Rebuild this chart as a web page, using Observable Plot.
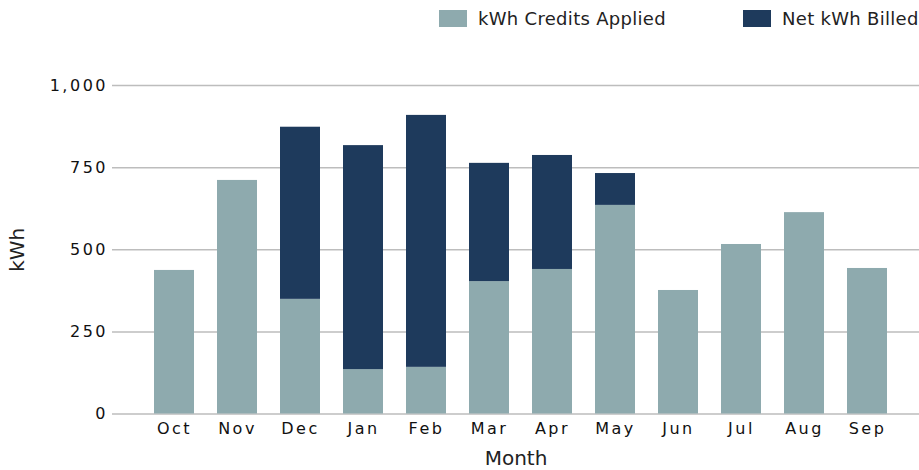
<!DOCTYPE html>
<html>
<head>
<meta charset="utf-8">
<script src="https://cdn.jsdelivr.net/npm/d3@7"></script>
<script src="https://cdn.jsdelivr.net/npm/@observablehq/plot@0.6"></script>
<style>
  html, body { margin: 0; padding: 0; background: #fff; }
  body { width: 919px; height: 470px; overflow: hidden; font-family: "DejaVu Sans", sans-serif; }
  #legend { position: relative; height: 38px; }
  .item { position: absolute; top: 8px; display: flex; align-items: center; font-size: 18px; color: #222; letter-spacing: 0.3px; }
  .sw { width: 28px; height: 17px; margin-right: 11px; }
  #chart svg { display: block; font-family: "DejaVu Sans", sans-serif; }
  #chart svg [aria-label$="tick label"] text { letter-spacing: 2.5px; }
</style>
</head>
<body>
<div id="legend"></div>
<div id="chart"></div>
<script>
const months = ["Oct","Nov","Dec","Jan","Feb","Mar","Apr","May","Jun","Jul","Aug","Sep"];
const creditsApplied = [437, 711, 349, 135, 142, 403, 440, 635, 376, 516, 613, 443];
const netBilled = [0, 0, 524, 682, 767, 360, 347, 97, 0, 0, 0, 0];
const seriesNames = ["kWh Credits Applied", "Net kWh Billed"];
const seriesColors = ["#8eaaae", "#1e3a5c"];
const yTicks = [0, 250, 500, 750, 1000];

const data = months.flatMap((m, i) => [
  {month: m, series: seriesNames[0], value: creditsApplied[i]},
  {month: m, series: seriesNames[1], value: netBilled[i]}
]);

// legend
const legendLefts = [439, 743];
const legend = document.getElementById("legend");
seriesNames.forEach((s, i) => {
  const it = document.createElement("div");
  it.className = "item";
  it.style.left = legendLefts[i] + "px";
  const sw = document.createElement("span");
  sw.className = "sw";
  sw.style.background = seriesColors[i];
  const tx = document.createElement("span");
  tx.textContent = s;
  it.append(sw, tx);
  legend.append(it);
});

const plot = Plot.plot({
  width: 919,
  height: 432,
  marginLeft: 112,
  marginRight: 0,
  marginTop: 47,
  marginBottom: 56.5,
  style: {fontSize: "16px", fontFamily: "DejaVu Sans, sans-serif", color: "#111", background: "#fff"},
  x: {domain: months, paddingInner: 0.365, paddingOuter: 0.587, align: 0.57},
  y: {domain: [0, 1000]},
  color: {domain: seriesNames, range: seriesColors},
  marks: [
    Plot.ruleY(yTicks, {stroke: "#bdbdbd", strokeWidth: 1.5}),
    Plot.barY(data, {x: "month", y: "value", fill: "series", order: seriesNames}),
    Plot.axisX({tickSize: 0, tickPadding: 9, label: "Month", labelArrow: "none", labelAnchor: "center", labelOffset: 51}),
    Plot.axisY({ticks: yTicks, tickFormat: d3.format(","), tickSize: 0, tickPadding: 4.5, label: "kWh", labelArrow: "none", labelAnchor: "center", labelOffset: 103})
  ]
});
document.getElementById("chart").append(plot);
d3.select(plot).selectAll('[aria-label$="axis label"] text').style("font-size", "20px").style("letter-spacing", "0px").style("fill", "#222");
</script>
</body>
</html>
